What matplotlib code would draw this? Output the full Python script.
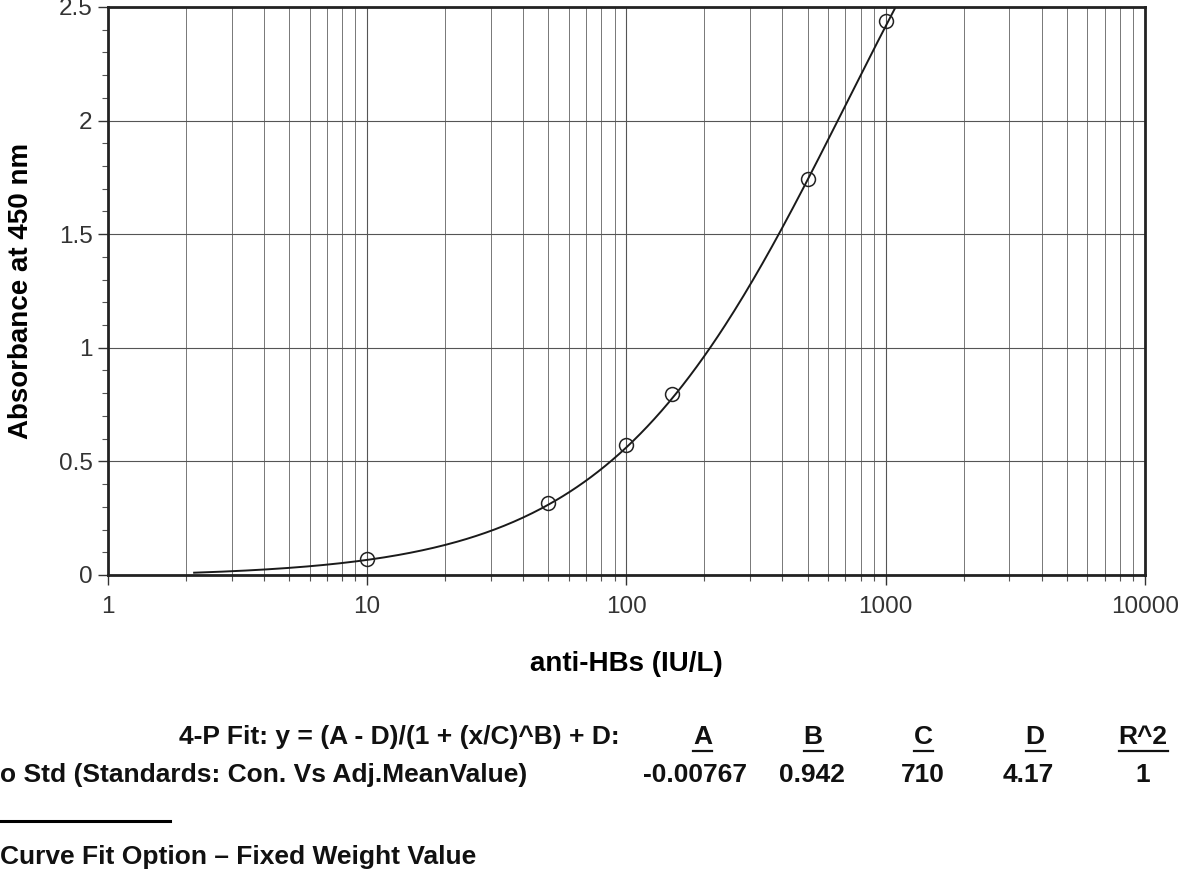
import numpy as np
import matplotlib
matplotlib.use('Agg')
import matplotlib.pyplot as plt
from matplotlib.ticker import MultipleLocator, LogLocator, FixedLocator, NullFormatter, FormatStrFormatter
from matplotlib.lines import Line2D

# standards
conc = [10, 50, 100, 150, 500, 1000]
absorb = [0.07, 0.315, 0.57, 0.795, 1.745, 2.44]

# 4-P fit parameters (from the table)
par_names = ['A', 'B', 'C', 'D', 'R^2']
par_text = ['-0.00767', '0.942', '710', '4.17', '1']
A, B, C, D = -0.00767, 0.942, 710, 4.17
fit_start, fit_end = 2.15, 1100

plt.rcParams['font.family'] = ['Liberation Sans', 'DejaVu Sans']

fig = plt.figure(figsize=(11.81, 8.73), dpi=100)
ax = fig.add_axes([0.0914, 0.3414, 0.878, 0.6506])

xs = np.logspace(np.log10(fit_start), np.log10(fit_end), 300)
ys = (A - D) / (1 + (xs / C) ** B) + D
ax.plot(xs, ys, color='#1a1a1a', lw=1.4)
ax.plot(conc, absorb, 'o', mfc='none', mec='#222222', ms=10, mew=1.1)

ax.set_xscale('log')
ax.set_xlim(1, 10000)
ax.set_ylim(0, 2.5)
ax.xaxis.set_major_locator(FixedLocator([1, 10, 100, 1000, 10000]))
ax.xaxis.set_major_formatter(FormatStrFormatter('%g'))
ax.xaxis.set_minor_locator(LogLocator(base=10, subs=np.arange(2, 10)))
ax.xaxis.set_minor_formatter(NullFormatter())
ax.yaxis.set_major_locator(MultipleLocator(0.5))
ax.yaxis.set_minor_locator(MultipleLocator(0.1))
ax.yaxis.set_major_formatter(FormatStrFormatter('%g'))

ax.grid(True, which='major', axis='both', color='#555555', lw=0.8)
ax.grid(True, which='minor', axis='x', color='#777777', lw=0.7)
ax.tick_params(axis='both', which='major', direction='out', length=7, width=1, labelsize=17.5, colors='#333333', labelcolor='#333333', pad=8)
ax.tick_params(axis='both', which='minor', direction='out', length=4, width=0.8, colors='#555555')
ax.tick_params(axis='y', which='major', pad=4)
for s in ax.spines.values():
    s.set_linewidth(2)
    s.set_color('#222222')

ax.set_xlabel('anti-HBs (IU/L)', fontsize=20, fontweight='bold', labelpad=24)
ax.set_ylabel('Absorbance at 450 nm', fontsize=20, fontweight='bold', labelpad=18)

# fit table below the chart
tfont = dict(fontsize=19, fontweight='bold', color='#111111')
W, H = 1181, 873
fig.text(620 / W, 1 - 737 / H, '4-P Fit: y = (A - D)/(1 + (x/C)^B) + D:', ha='right', va='center', **tfont)
fig.text(0, 1 - 775 / H, 'o Std (Standards: Con. Vs Adj.MeanValue)', ha='left', va='center', **tfont)
hdr_x = [703, 813, 923, 1035, 1143]
val_x = [695, 812, 923, 1028, 1143]
hdrs = []
for name, hx in zip(par_names, hdr_x):
    hdrs.append(fig.text(hx / W, 1 - 737 / H, name, ha='center', va='center', **tfont))
for val, vx in zip(par_text, val_x):
    fig.text(vx / W, 1 - 775 / H, val, ha='center', va='center', **tfont)
fig.add_artist(Line2D([0, 170 / W], [1 - 821 / H, 1 - 821 / H], color='black', lw=2.2))
fig.text(0, 1 - 857 / H, 'Curve Fit Option \u2013 Fixed Weight Value', ha='left', va='center', **tfont)

# underline the parameter headers
fig.canvas.draw()
r = fig.canvas.get_renderer()
for t in hdrs:
    bb = t.get_window_extent(r).transformed(fig.transFigure.inverted())
    fig.add_artist(Line2D([bb.x0, bb.x1], [bb.y0 - 0.002, bb.y0 - 0.002], color='#111111', lw=1.6))

fig.savefig('out.png', dpi=100)
